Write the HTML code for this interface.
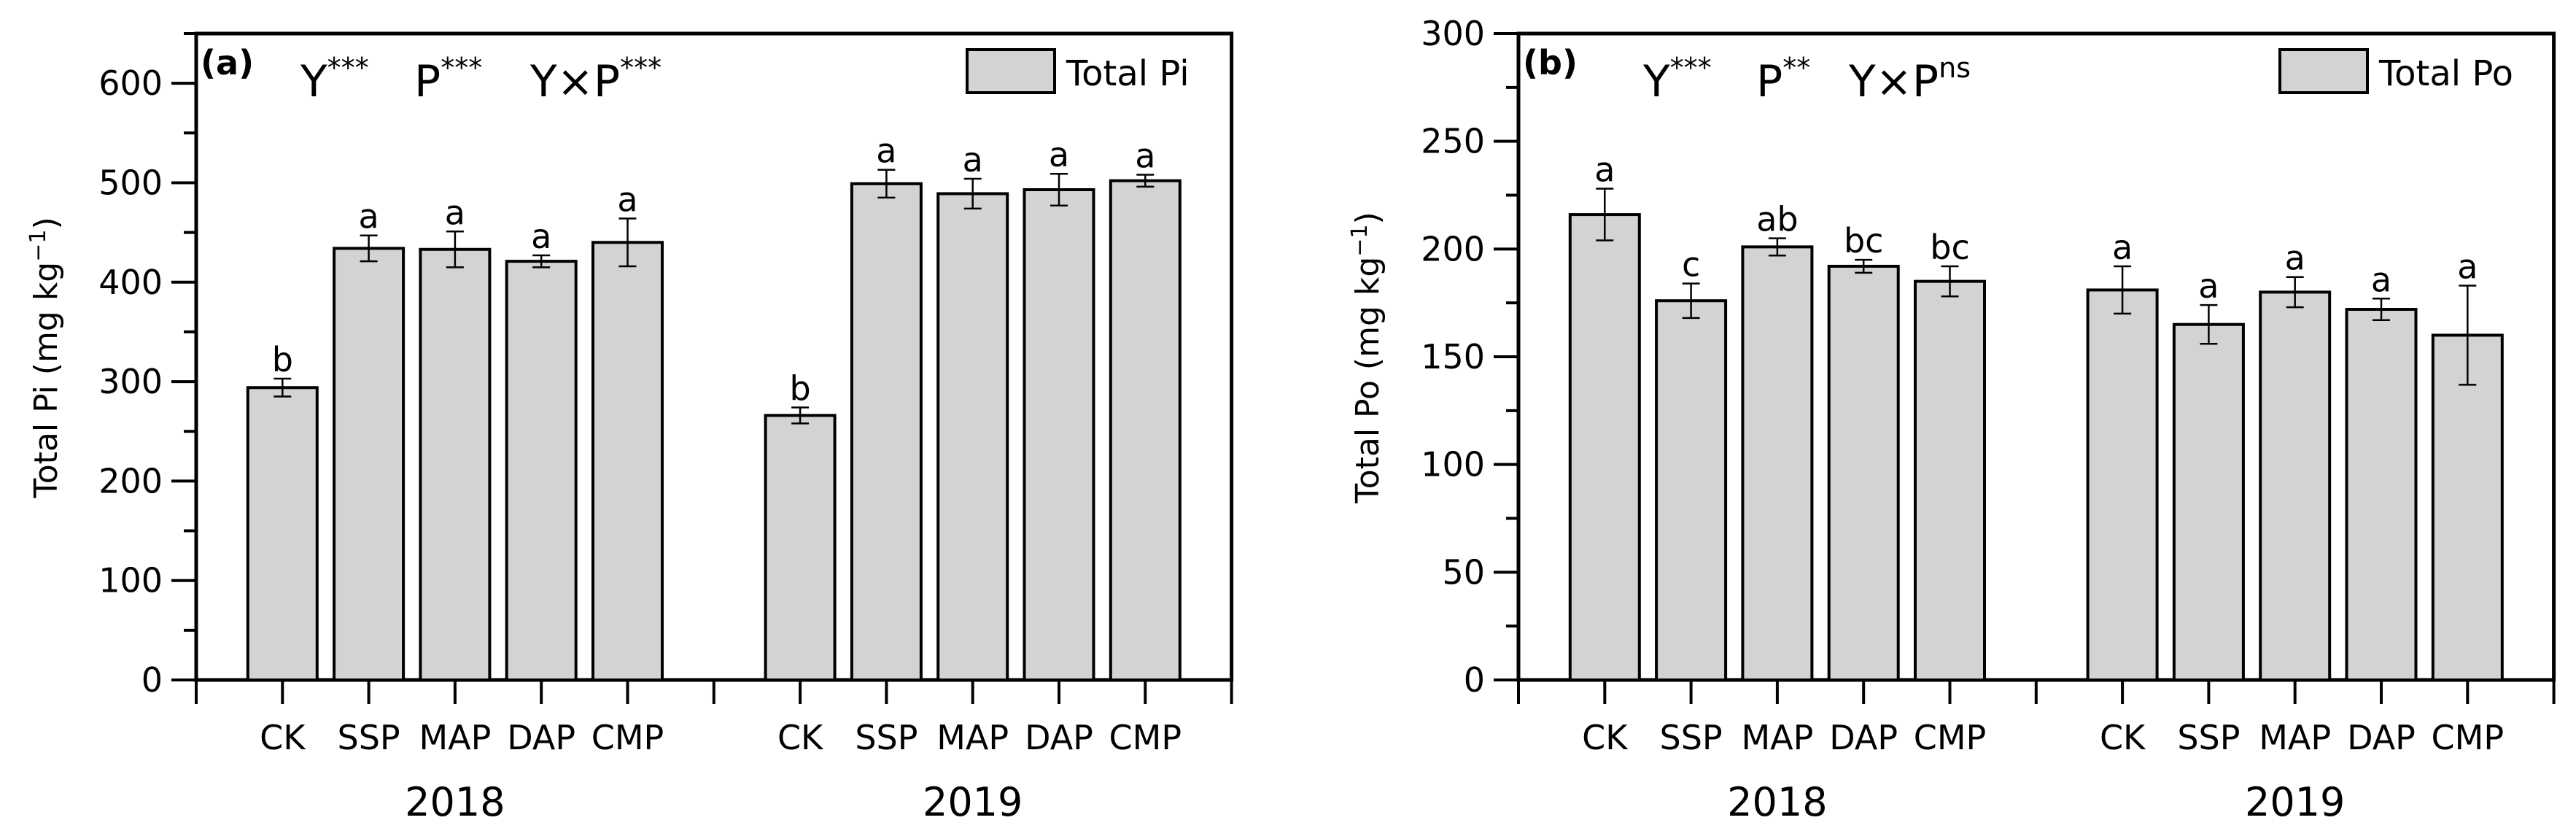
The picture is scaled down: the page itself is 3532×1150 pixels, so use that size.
<!DOCTYPE html>
<html><head><meta charset="utf-8"><style>
body{margin:0;background:#fff}
svg{display:block;font-family:"DejaVu Sans","Liberation Sans",sans-serif}
</style></head><body>
<svg id="chart" width="3532" height="1150" viewBox="0 0 3532 1150" xmlns="http://www.w3.org/2000/svg"></svg>
<script>
const categories = ["CK","SSP","MAP","DAP","CMP"];
const years = ["2018","2019"];
const piValues2018 = [294,434,433,421,440];
const piValues2019 = [266,499,489,493,502];
const piErr2018 = [9,13,18,6,24];
const piErr2019 = [8,14,15,16,6];
const piLetters2018 = ["b","a","a","a","a"];
const piLetters2019 = ["b","a","a","a","a"];
const piTicks = [0,100,200,300,400,500,600];
const poValues2018 = [216,176,201,192,185];
const poValues2019 = [181,165,180,172,160];
const poErr2018 = [12,8,4,3,7];
const poErr2019 = [11,9,7,5,23];
const poLetters2018 = ["a","c","ab","bc","bc"];
const poLetters2019 = ["a","a","a","a","a"];
const poTicks = [0,50,100,150,200,250,300];

const svg = document.getElementById('chart');
const NS = "http://www.w3.org/2000/svg";
function mk(tag, attrs, parent){const e=document.createElementNS(NS,tag);for(const k in attrs)e.setAttribute(k,attrs[k]);(parent||svg).appendChild(e);return e;}
function txt(s,attrs,parent){const e=mk('text',attrs,parent);e.textContent=s;return e;}

function panel(o){
  const g = mk('g',{});
  
  
  const x0=o.x0, step=118.3, x1=x0+12*step, yTop=46, yBot=932;
  const y = v => yBot - v/o.max*(yBot-yTop);
  const xc = i => x0 + i*step;
  const fr = mk('rect',{x:x0,y:yTop,width:x1-x0,height:yBot-yTop,fill:'none',stroke:'#000','stroke-width':5},g);
  
  
  for(let v=0; v<=o.max+0.01; v+=o.minor){
    const major = o.ticks.includes(v);
    mk('line',{x1:x0-(major?34:17),x2:x0,y1:y(v),y2:y(v),stroke:'#000','stroke-width':4},g);
  }
  o.ticks.forEach(v=>{
    const t=txt(String(v),{x:x0-46,y:y(v)+16,'text-anchor':'end','font-size':46},g);
    
    
  });
  for(let i=0;i<=12;i++) mk('line',{x1:xc(i),x2:xc(i),y1:yBot,y2:yBot+33,stroke:'#000','stroke-width':4},g);
  const sets=[[o.v1,o.e1,o.l1,1],[o.v2,o.e2,o.l2,7]];
  sets.forEach(([vals,errs,lets,off],yi)=>{
    vals.forEach((v,i)=>{
      const cx=xc(off+i), w=95;
      const r=mk('rect',{x:cx-w/2,y:y(v),width:w,height:yBot-y(v),fill:'#d3d3d3',stroke:'#000','stroke-width':4},g);
      
      
      const e=errs[i];
      mk('line',{x1:cx,x2:cx,y1:y(v+e),y2:y(v-e),stroke:'#000','stroke-width':2.5},g);
      mk('line',{x1:cx-12,x2:cx+12,y1:y(v+e),y2:y(v+e),stroke:'#000','stroke-width':2.5},g);
      mk('line',{x1:cx-12,x2:cx+12,y1:y(v-e),y2:y(v-e),stroke:'#000','stroke-width':2.5},g);
      const l=txt(lets[i],{x:cx,y:y(v+e)-10,'text-anchor':'middle','font-size':46},g);
      
      
      const c=txt(categories[i],{x:cx,y:1027,'text-anchor':'middle','font-size':46},g);
      
      
    });
    const yl=txt(years[yi],{x:xc(off+2),y:1118,'text-anchor':'middle','font-size':54},g);
    
    
  });
  const tt=txt('',{transform:`translate(${o.titleX},490) rotate(-90)`,'text-anchor':'middle','font-size':44},g);
  tt.innerHTML=o.title+' (mg kg<tspan dy="-16" font-size="30">−1</tspan><tspan dy="16">)</tspan>';
  
  
  const pl=txt(o.label,{x:x0+6,y:102,'font-size':46,'font-weight':'bold'},g);
  
  
  o.stats.forEach(([base,s,x])=>{
    const st=txt('',{x:x,y:132,'font-size':60},g);
    st.innerHTML=base+`<tspan dy="-26" font-size="38">${s}</tspan>`;
    
    
  });
  const lg=mk('g',{},g);
  
  
  mk('rect',{x:o.legX,y:68,width:120,height:59,fill:'#d3d3d3',stroke:'#000','stroke-width':4},lg);
  txt(o.legText,{x:o.legX+136,y:117,'font-size':48},lg);
}
panel({id:'panel-a-total-pi',x0:269,max:650,minor:50,ticks:piTicks,v1:piValues2018,e1:piErr2018,l1:piLetters2018,v2:piValues2019,e2:piErr2019,l2:piLetters2019,
  title:'Total Pi',titleX:78,label:'(a)',
  stats:[['Y','***',412],['P','***',568],['Y×P','***',727]],legX:1326,legText:'Total Pi'});
panel({id:'panel-b-total-po',x0:2082,max:300,minor:25,ticks:poTicks,v1:poValues2018,e1:poErr2018,l1:poLetters2018,v2:poValues2019,e2:poErr2019,l2:poLetters2019,
  title:'Total Po',titleX:1890,label:'(b)',
  stats:[['Y','***',2253],['P','**',2408],['Y×P','ns',2535]],legX:3126,legText:'Total Po'});
</script>
</body></html>
